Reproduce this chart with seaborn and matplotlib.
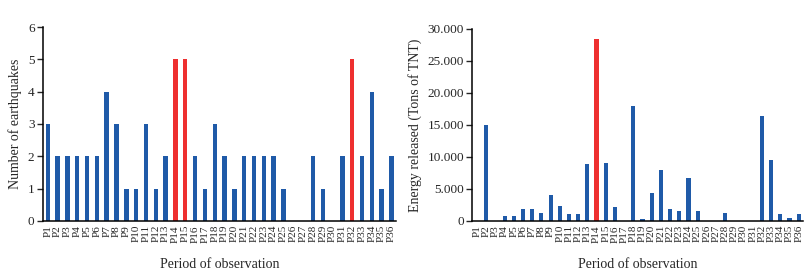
import matplotlib
matplotlib.use('Agg')
import matplotlib.pyplot as plt
import matplotlib.ticker as mticker
import seaborn as sns
import pandas as pd

# Periods P1..P36
periods = ['P' + str(i) for i in range(1, 37)]

# Number of earthquakes per period
quakes = [3, 2, 2, 2, 2, 2, 4, 3, 1, 1, 3, 1, 2, 5, 5, 2, 1, 3,
          2, 1, 2, 2, 2, 2, 1, 0, 0, 2, 1, 0, 2, 5, 2, 4, 1, 2]

# Energy released per period (tons of TNT)
energy = [0, 15000, 0, 800, 800, 1900, 1800, 1300, 4100, 2400, 1100, 1100,
          8900, 28500, 9100, 2200, 0, 17900, 300, 4400, 8000, 1900, 1600, 6700,
          1600, 0, 0, 1300, 0, 0, 0, 16400, 9500, 1100, 500, 1100]

# Periods highlighted in red
red_quakes = ['P14', 'P15', 'P32']
red_energy = ['P14']

BLUE = '#1f5aa8'
RED = '#ee2f2f'

sns.set_style('white')
plt.rcParams['font.family'] = ['Liberation Serif', 'DejaVu Serif']

df_q = pd.DataFrame({'period': periods, 'value': quakes})
df_e = pd.DataFrame({'period': periods, 'value': energy})

fig = plt.figure(figsize=(8.09, 2.71), dpi=100)
ax1 = fig.add_axes([0.053, 0.185, 0.437, 0.715])
ax2 = fig.add_axes([0.584, 0.185, 0.409, 0.708])


def draw(ax, df, reds, ylabel):
    pal = {p: (RED if p in reds else BLUE) for p in df['period']}
    sns.barplot(data=df, x='period', y='value', hue='period', palette=pal,
                legend=False, width=0.45, saturation=1, linewidth=0, ax=ax)
    ax.set_xlim(-0.5, len(df) - 0.5)
    ax.set_xlabel('Period of observation', fontsize=10, labelpad=11)
    ax.set_ylabel(ylabel, fontsize=10)
    ax.tick_params(axis='x', labelrotation=90, labelsize=8, length=0, pad=3)
    ax.tick_params(axis='y', labelsize=9.5, length=4, width=1, direction='out',
                   left=True, pad=2)
    for s in ['top', 'right']:
        ax.spines[s].set_visible(False)
    for s in ['left', 'bottom']:
        ax.spines[s].set_color('black')
        ax.spines[s].set_linewidth(1.1)


draw(ax1, df_q, red_quakes, 'Number of earthquakes')
ax1.set_ylim(0, 6)
ax1.set_yticks(range(0, 7))

draw(ax2, df_e, red_energy, 'Energy released (Tons of TNT)')
ax2.set_ylim(0, 30000)
ax2.set_yticks(range(0, 30001, 5000))
ax2.yaxis.set_major_formatter(mticker.FuncFormatter(
    lambda v, p: '0' if v == 0 else '{:,.0f}'.format(v).replace(',', '.')))

fig.savefig('out.png', dpi=100)
